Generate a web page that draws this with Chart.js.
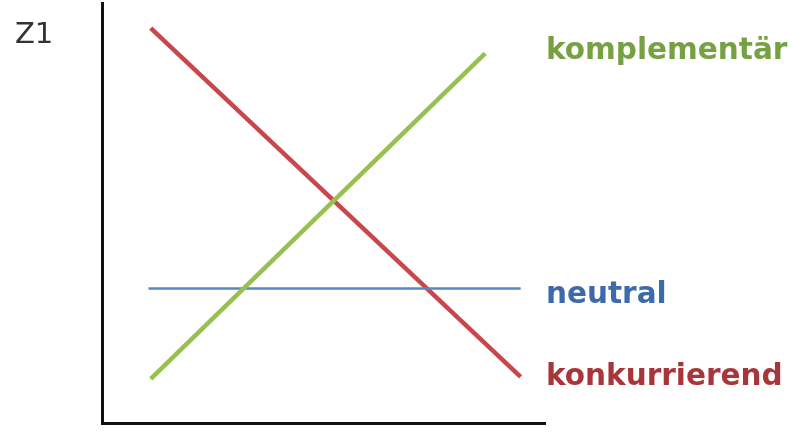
<!DOCTYPE html>
<html>
<head>
<meta charset="utf-8">
<script src="https://cdn.jsdelivr.net/npm/chart.js@4.4.0/dist/chart.umd.min.js"></script>
<style>
  html, body { margin: 0; padding: 0; background: #fff; }
  #wrap { width: 802px; height: 433px; }
</style>
</head>
<body>
<div id="wrap"><canvas id="chart"></canvas></div>
<script>
// curves in the Z1 diagram (x/y in 0..100)
let seriesNames = ['komplementär', 'neutral', 'konkurrierend'];
let kompX = [11, 86.5];
let kompY = [10.5, 88];
let neutralX = [10.5, 94.5];
let neutralY = [32, 32];
let konkX = [11, 94.5];
let konkY = [94, 11];
// height (in y units) of each name's baseline
let nameY = [86.7, 28.6, 9.1];
let axisLabel = 'Z1';

let lineColors = ['#98c050', '#5487c4', '#c8474c'];
let textColors = ['#76a041', '#3d6aa9', '#a8353a'];

function toPoints(xs, ys) {
  let pts = [];
  for (let i = 0; i < xs.length; i++) {
    pts.push({x: xs[i], y: ys[i]});
  }
  return pts;
}

// draws series names to the right of the plot and the Z1 label
let sideLabels = {
  id: 'sideLabels',
  afterDatasetsDraw(chart) {
    let c = chart.ctx;
    let area = chart.chartArea;
    let yScale = chart.scales.y;
    c.save();
    c.font = 'bold 29.5px "DejaVu Sans"';
    c.textBaseline = 'alphabetic';
    c.textAlign = 'left';
    chart.data.datasets.forEach(function (ds, i) {
      c.fillStyle = textColors[i];
      c.fillText(ds.label, area.right + 1, yScale.getPixelForValue(nameY[i]));
    });
    c.font = '29px "DejaVu Sans"';
    c.fillStyle = '#333';
    c.fillText(axisLabel, area.left - 87, area.top + 40);
    c.restore();
  }
};

let ctx = document.getElementById('chart').getContext('2d');
let diagram = new Chart(ctx, {
  type: 'scatter',
  data: {
    datasets: [
      {
        label: seriesNames[0],
        data: toPoints(kompX, kompY),
        showLine: true,
        borderColor: lineColors[0],
        borderWidth: 4.5,
        pointRadius: 0
      },
      {
        label: seriesNames[1],
        data: toPoints(neutralX, neutralY),
        showLine: true,
        borderColor: lineColors[1],
        borderWidth: 2.5,
        pointRadius: 0
      },
      {
        label: seriesNames[2],
        data: toPoints(konkX, konkY),
        showLine: true,
        borderColor: lineColors[2],
        borderWidth: 4.5,
        pointRadius: 0
      }
    ]
  },
  options: {
    responsive: true,
    maintainAspectRatio: false,
    animation: false,
    layout: {
      padding: {left: 102, right: 257, top: 3, bottom: 10}
    },
    plugins: {
      legend: { display: false },
      tooltip: { enabled: false }
    },
    scales: {
      x: {
        type: 'linear',
        min: 0,
        max: 100,
        grid: { display: false, drawTicks: false },
        ticks: { display: false },
        border: { display: true, color: '#111', width: 3 }
      },
      y: {
        type: 'linear',
        min: 0,
        max: 100,
        grid: { display: false, drawTicks: false },
        ticks: { display: false },
        border: { display: true, color: '#111', width: 3 }
      }
    }
  },
  plugins: [sideLabels]
});
</script>
</body>
</html>
